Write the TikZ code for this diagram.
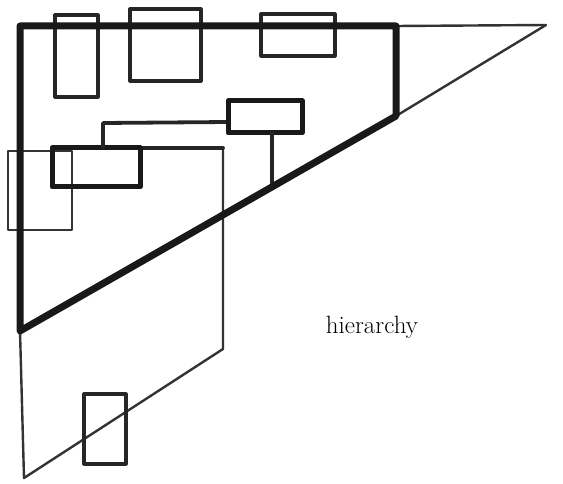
\documentclass[tikz,border=0pt]{standalone}
\begin{document}
\begin{tikzpicture}[x=1pt,y=-1pt,line join=round,line cap=round,
  heavy/.style={line width=7pt,draw=black!90},
  boxline/.style={line width=3.2pt,draw=black!85},
  medium/.style={line width=3.8pt,draw=black!85},
  fine/.style={line width=2.4pt,draw=black!80}]
\useasboundingbox (0,0) rectangle (563,484);
% key points
\coordinate (TL) at (20,26);
\coordinate (TR) at (396,26);
\coordinate (RB) at (396,116);
\coordinate (BL) at (20,331);
\coordinate (Apex) at (546,25);
\coordinate (LowL) at (24,478);
\coordinate (LowR) at (223,349);
\coordinate (MidT) at (223,148);
% thin outer lines
\draw[fine] (TR) -- (Apex) -- (RB);
\draw[fine] (BL) -- (LowL) -- (LowR) -- (MidT);
% top boxes
\draw[boxline] (55,15) rectangle (98,97);
\draw[boxline] (130,9) rectangle (201,81);
\draw[boxline] (261,14) rectangle (335,56);
% thin left box
\draw[fine] (8,151) rectangle (72,230);
% middle structure
\draw[medium] (52,148) -- (MidT);
\draw[heavy,line width=5pt] (52,148) rectangle (140,187);
\draw[medium] (103,148) -- (103,123) -- (228,122);
\draw[heavy,line width=5pt] (228,101) rectangle (302,133);
\draw[medium] (272,133) -- (272,186);
% lower box
\draw[boxline] (84,394) rectangle (126,464);
% main thick triangle
\draw[heavy] (TR) -- (TL) -- (BL) -- (RB) -- cycle;
% label
\node[font=\fontsize{25}{29}\selectfont] (lab) at (372,327) {hierarchy};
\end{tikzpicture}
\end{document}
